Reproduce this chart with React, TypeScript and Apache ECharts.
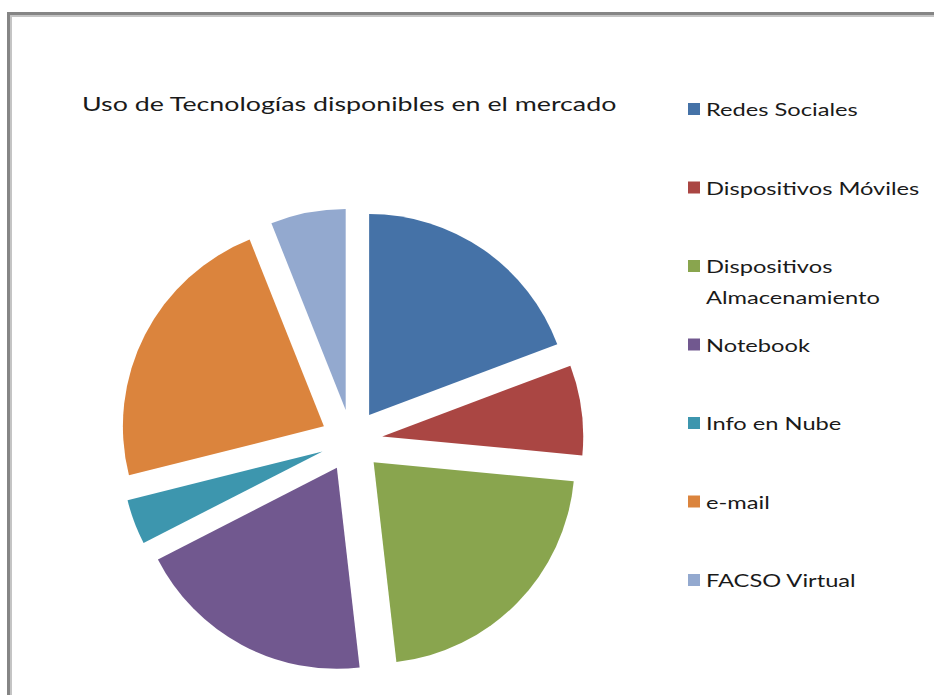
import React, { useEffect, useRef } from "react";
import * as echarts from "echarts";

const categories = [
  "Redes Sociales",
  "Dispositivos Móviles",
  "Dispositivos Almacenamiento",
  "Notebook",
  "Info en Nube",
  "e-mail",
  "FACSO Virtual",
];
const values = [16, 6, 18, 16, 3, 19, 5];
const legendLines = [
  ["Redes Sociales"],
  ["Dispositivos Móviles"],
  ["Dispositivos", "Almacenamiento"],
  ["Notebook"],
  ["Info en Nube"],
  ["e-mail"],
  ["FACSO Virtual"],
];
const colors = ["#4572A7", "#AA4643", "#89A54E", "#71588F", "#3D96AE", "#DB843D", "#93A9CF"];
const title = "Uso de Tecnologías disponibles en el mercado";

const FONT = "Lato, 'Open Sans', sans-serif";
const SX_TITLE = 1.34;
const SX_LEGEND = 1.315;

export default function App() {
  const ref = useRef<HTMLDivElement>(null);
  useEffect(() => {
    if (!ref.current) return;
    const chart = echarts.init(ref.current, undefined, { renderer: "svg" });
    const graphics: any[] = [
      {
        type: "rect",
        silent: true,
        shape: { x: 8.5, y: 13.5, width: 1000, height: 1000 },
        style: { fill: "none", stroke: "#858585", lineWidth: 3 },
      },
      {
        type: "rect",
        silent: true,
        shape: { x: 11, y: 16, width: 1000, height: 1000 },
        style: { fill: "none", stroke: "#c4c4c4", lineWidth: 2 },
      },
      {
        type: "text",
        x: 82,
        y: 103,
        scaleX: SX_TITLE,
        style: {
          text: title,
          fill: "#1a1a1a",
          font: `400 20px ${FONT}`,
          align: "left",
          verticalAlign: "middle",
        },
      },
    ];
    legendLines.forEach((lines, i) => {
      const cy = 109 + 78.5 * i;
      graphics.push({
        type: "rect",
        silent: true,
        shape: { x: 688, y: cy - 6, width: 12, height: 12 },
        style: { fill: colors[i] },
      });
      lines.forEach((t, j) => {
        graphics.push({
          type: "text",
          x: 706,
          y: cy + 31 * j,
          scaleX: SX_LEGEND,
          style: {
            text: t,
            fill: "#1a1a1a",
            font: `400 18px ${FONT}`,
            align: "left",
            verticalAlign: "middle",
          },
        });
      });
    });
    chart.setOption({
      animation: false,
      color: colors,
      graphic: graphics,
      series: [
        {
          type: "pie",
          center: [351.5, 440.5],
          radius: 201,
          startAngle: 90,
          clockwise: true,
          selectedMode: "multiple",
          selectedOffset: 31,
          label: { show: false },
          labelLine: { show: false },
          emphasis: { disabled: true, scale: false },
          itemStyle: { borderWidth: 0 },
          data: categories.map((name, i) => ({ name, value: values[i], selected: true })),
        },
      ],
    });
    return () => chart.dispose();
  }, []);
  return (
    <div
      ref={ref}
      style={{ position: "absolute", left: 0, top: 0, width: 934, height: 695, background: "#fff" }}
    />
  );
}
